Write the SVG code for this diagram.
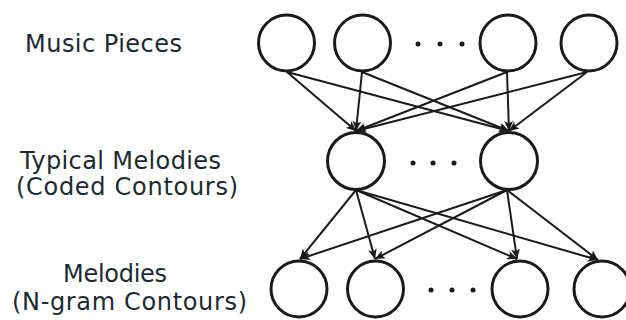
<svg xmlns="http://www.w3.org/2000/svg" width="626" height="320" viewBox="0 0 626 320">
<defs>
<style>
.node{fill:#fff;stroke:#1a1a1a;stroke-width:3}
.edge{stroke:#1a1a1a;stroke-width:2;fill:none;marker-end:url(#arr)}
.dot{fill:#1a1a1a}
.lbl{font-family:"DejaVu Sans",sans-serif;font-size:24px;fill:#1c2a30}
</style>
<marker id="arr" markerUnits="userSpaceOnUse" markerWidth="11" markerHeight="9" refX="10" refY="4.5" orient="auto">
<path d="M0,0 L10,4.5 L0,9 L2.5,4.5 z" fill="#1a1a1a"/>
</marker>
</defs>
<rect width="626" height="320" fill="#fff"/>
<g id="labels">
<text class="lbl" x="25" y="52" textLength="157" lengthAdjust="spacing">Music Pieces</text>
<text class="lbl" x="20" y="169" textLength="201" lengthAdjust="spacing">Typical Melodies</text>
<text class="lbl" x="16" y="195" textLength="222" lengthAdjust="spacing">(Coded Contours)</text>
<text class="lbl" x="63" y="282" textLength="104" lengthAdjust="spacing">Melodies</text>
<text class="lbl" x="12" y="310" textLength="235" lengthAdjust="spacing">(N-gram Contours)</text>
</g>
<g id="connectors">
<line class="edge" x1="287" y1="72" x2="356" y2="131"/>
<line class="edge" x1="287" y1="72" x2="509" y2="131"/>
<line class="edge" x1="362" y1="72" x2="356" y2="131"/>
<line class="edge" x1="362" y1="72" x2="509" y2="131"/>
<line class="edge" x1="507" y1="72" x2="356" y2="131"/>
<line class="edge" x1="507" y1="72" x2="509" y2="131"/>
<line class="edge" x1="587" y1="72" x2="356" y2="131"/>
<line class="edge" x1="587" y1="72" x2="509" y2="131"/>
<line class="edge" x1="356" y1="190" x2="300" y2="259"/>
<line class="edge" x1="356" y1="190" x2="375" y2="259"/>
<line class="edge" x1="356" y1="190" x2="517" y2="259"/>
<line class="edge" x1="356" y1="190" x2="598" y2="260"/>
<line class="edge" x1="507" y1="190" x2="300" y2="259"/>
<line class="edge" x1="507" y1="190" x2="375" y2="259"/>
<line class="edge" x1="507" y1="190" x2="517" y2="259"/>
<line class="edge" x1="507" y1="190" x2="598" y2="260"/>
</g>
<g id="top1"><circle class="node" cx="286.5" cy="43" r="28"/></g>
<g id="top2"><circle class="node" cx="362.5" cy="43" r="28"/></g>
<g id="top3"><circle class="node" cx="508" cy="43" r="28"/></g>
<g id="top4"><circle class="node" cx="589" cy="43" r="28"/></g>
<g id="mid1"><circle class="node" cx="356" cy="161" r="28.5"/></g>
<g id="mid2"><circle class="node" cx="509" cy="161" r="28.5"/></g>
<g id="bot1"><circle class="node" cx="299" cy="289" r="28"/></g>
<g id="bot2"><circle class="node" cx="375.5" cy="289" r="28"/></g>
<g id="bot3"><circle class="node" cx="520" cy="289" r="28"/></g>
<g id="bot4"><circle class="node" cx="602" cy="289" r="28"/></g>
<g id="dots">
<circle class="dot" cx="418" cy="44" r="2.5"/><circle class="dot" cx="440" cy="44" r="2.5"/><circle class="dot" cx="462" cy="44" r="2.5"/>
<circle class="dot" cx="413" cy="163" r="2.5"/><circle class="dot" cx="433" cy="163" r="2.5"/><circle class="dot" cx="454" cy="163" r="2.5"/>
<circle class="dot" cx="431" cy="290" r="2.5"/><circle class="dot" cx="452" cy="290" r="2.5"/><circle class="dot" cx="473" cy="290" r="2.5"/>
</g>
</svg>
